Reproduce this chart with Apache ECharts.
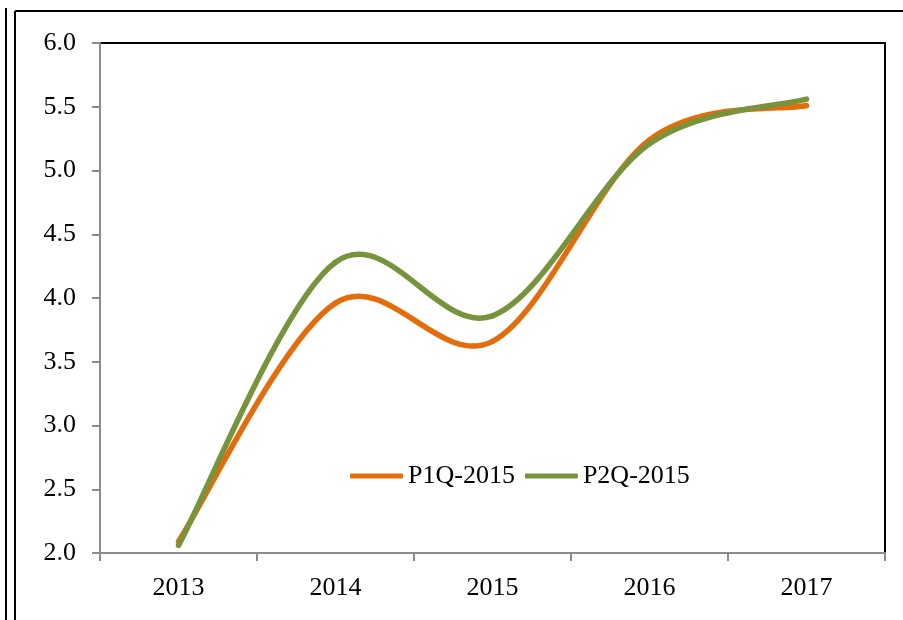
<!DOCTYPE html>
<html lang="en">
<head>
  <meta charset="utf-8">
  <title>P1Q / P2Q 2015</title>
  <script src="https://cdn.jsdelivr.net/npm/echarts@6/dist/echarts.min.js"></script>
  <style>
    html, body { margin: 0; padding: 0; background: #fff; }
    #chart1 { width: 903px; height: 620px; }
  </style>
</head>
<body>
<div id="chart1"></div>
<script>
  // data
  var years = ['2013', '2014', '2015', '2016', '2017'];
  var p1q = [2.09, 3.96, 3.66, 5.24, 5.51];
  var p2q = [2.06, 4.28, 3.86, 5.21, 5.56];
  var serieNames = ['P1Q-2015', 'P2Q-2015'];
  var colores = ['#e46c0a', '#77933c'];

  var fuente = 'Liberation Serif, Times New Roman, serif';
  var gris = '#8c8c8c';

  var chart1 = echarts.init(document.getElementById('chart1'));

  // curva suavizada tipo Excel (catmull-rom -> bezier), un tramo por punto
  function tramoSuave(valores, color) {
    return function (params, api) {
      var i = params.dataIndex;
      var n = valores.length;
      if (i >= n - 1) return null;
      var p = function (j) {
        j = Math.max(0, Math.min(n - 1, j));
        return api.coord([j, valores[j]]);
      };
      var p0 = p(i - 1), p1 = p(i), p2 = p(i + 1), p3 = p(i + 2);
      return {
        type: 'bezierCurve',
        shape: {
          x1: p1[0], y1: p1[1],
          x2: p2[0], y2: p2[1],
          cpx1: p1[0] + (p2[0] - p0[0]) / 6,
          cpy1: p1[1] + (p2[1] - p0[1]) / 6,
          cpx2: p2[0] - (p3[0] - p1[0]) / 6,
          cpy2: p2[1] - (p3[1] - p1[1]) / 6
        },
        style: { stroke: color, lineWidth: 5.5, fill: null, lineCap: 'round' }
      };
    };
  }

  var option = {
    animation: false,
    textStyle: { fontFamily: fuente },
    grid: {
      left: 100, right: 18, top: 43, bottom: 67,
      show: true,
      borderColor: '#000',
      borderWidth: 2,
      backgroundColor: '#fff'
    },
    legend: {
      data: [
        { name: serieNames[0], icon: 'roundRect' },
        { name: serieNames[1], icon: 'roundRect' }
      ],
      left: 350,
      top: 463,
      padding: 0,
      itemWidth: 53,
      itemHeight: 5,
      itemGap: 10,
      textStyle: { fontFamily: fuente, fontSize: 26, color: '#000' }
    },
    xAxis: {
      type: 'category',
      data: years,
      boundaryGap: true,
      axisLine: { lineStyle: { color: gris, width: 2 } },
      axisTick: { show: true, length: 8, lineStyle: { color: gris, width: 2 } },
      axisLabel: { color: '#000', fontSize: 26, fontFamily: fuente, margin: 22 },
      splitLine: { show: false }
    },
    yAxis: {
      type: 'value',
      min: 2,
      max: 6,
      interval: 0.5,
      axisLine: { show: true, lineStyle: { color: gris, width: 2 } },
      axisTick: { show: true, length: 8, lineStyle: { color: gris, width: 2 } },
      axisLabel: {
        color: '#000', fontSize: 26, fontFamily: fuente, margin: 24,
        formatter: function (v) { return v.toFixed(1); }
      },
      splitLine: { show: false }
    },
    series: [
      {
        name: serieNames[0],
        type: 'custom',
        data: p1q.map(function (v, i) { return [i, v]; }),
        encode: { x: 0, y: 1 },
        color: colores[0],
        renderItem: tramoSuave(p1q, colores[0])
      },
      {
        name: serieNames[1],
        type: 'custom',
        data: p2q.map(function (v, i) { return [i, v]; }),
        encode: { x: 0, y: 1 },
        color: colores[1],
        renderItem: tramoSuave(p2q, colores[1])
      }
    ],
    // marco exterior del cuadro
    graphic: [
      { type: 'line', shape: { x1: 6, y1: 8, x2: 6, y2: 620 }, style: { stroke: '#000', lineWidth: 2 } },
      { type: 'line', shape: { x1: 15, y1: 11, x2: 15, y2: 620 }, style: { stroke: '#000', lineWidth: 2 } },
      { type: 'line', shape: { x1: 15, y1: 11, x2: 903, y2: 11 }, style: { stroke: '#000', lineWidth: 2 } }
    ]
  };
  chart1.setOption(option);
</script>
</body>
</html>
